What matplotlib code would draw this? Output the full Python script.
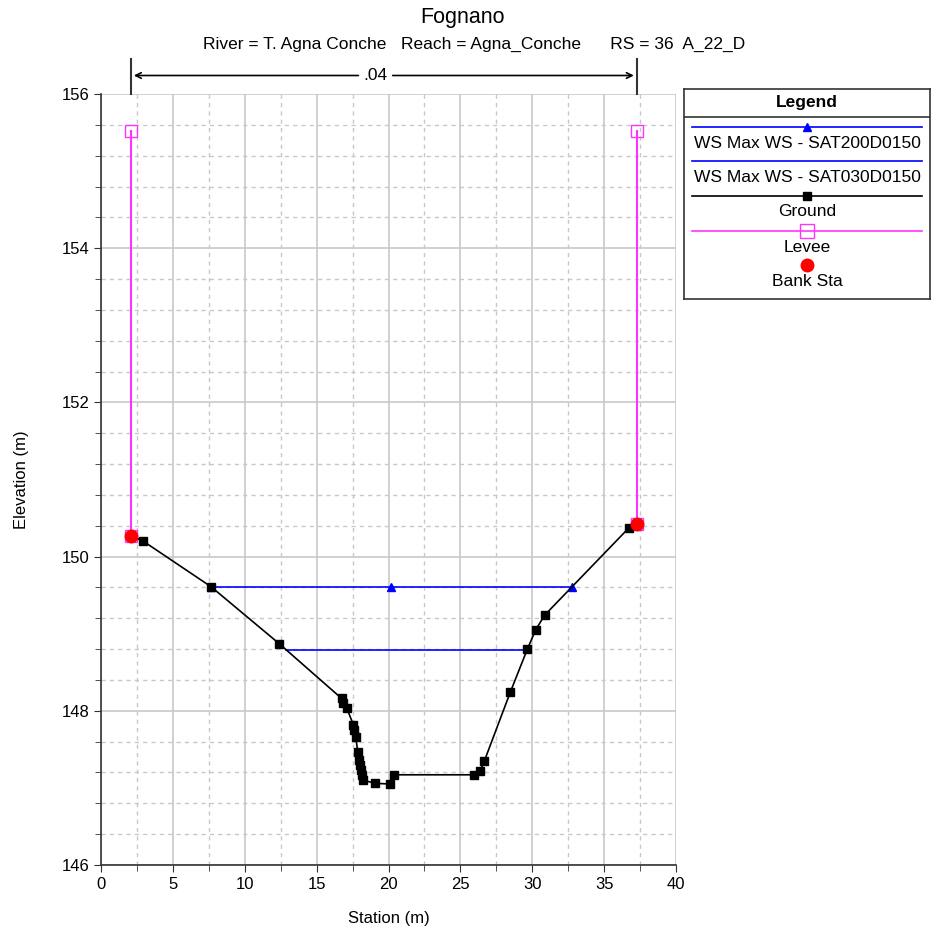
import matplotlib.pyplot as plt
from matplotlib.ticker import MultipleLocator

plt.rcParams['font.family'] = ['Liberation Sans', 'DejaVu Sans']

# Ground profile (station, elevation)
ground_x = [2.09, 2.94, 7.65, 12.4, 16.74, 16.86, 17.09, 17.55, 17.62, 17.72, 17.86,
            17.95, 18.02, 18.09, 18.18, 18.25, 19.06, 20.10, 20.41, 25.97, 26.37,
            26.67, 28.47, 29.66, 30.24, 30.86, 36.71, 37.26]
ground_y = [150.27, 150.20, 149.61, 148.87, 148.16, 148.10, 148.04, 147.82, 147.75,
            147.66, 147.47, 147.36, 147.30, 147.23, 147.17, 147.10, 147.06, 147.05,
            147.17, 147.17, 147.22, 147.35, 148.24, 148.80, 149.05, 149.24, 150.37, 150.42]

# Water surfaces
ws200_x = [7.65, 20.2, 32.74]
ws200_y = [149.61, 149.61, 149.61]
ws030_x = [12.9, 29.64]
ws030_y = [148.79, 148.79]

# Levees
levee_left_x = [2.09, 2.09]
levee_left_y = [155.52, 150.27]
levee_right_x = [37.26, 37.26]
levee_right_y = [155.52, 150.42]

# Bank stations
bank_x = [2.09, 37.26]
bank_y = [150.27, 150.42]

n_value = ".04"

fig = plt.figure(figsize=(9.32, 9.32), dpi=100)
ax = fig.add_axes([101 / 932, 1 - 865 / 932, 575 / 932, 771 / 932])

ax.set_xlim(0, 40)
ax.set_ylim(146, 156)
ax.xaxis.set_major_locator(MultipleLocator(5))
ax.xaxis.set_minor_locator(MultipleLocator(2.5))
ax.yaxis.set_major_locator(MultipleLocator(2))
ax.yaxis.set_minor_locator(MultipleLocator(0.4))
ax.grid(which='major', color='#c8c8c8', linewidth=1.2, linestyle='-')
ax.grid(which='minor', color='#c8c8c8', linewidth=1.0, linestyle=(0, (3, 3)))
ax.set_axisbelow(True)
for s in ['top', 'right']:
    ax.spines[s].set_visible(False)
for s in ['left', 'bottom']:
    ax.spines[s].set_color('#333333')
    ax.spines[s].set_linewidth(1.2)
ax.tick_params(which='major', direction='out', length=5, labelsize=12, color='#333333')
ax.tick_params(which='minor', direction='out', length=4, color='#333333')

ax.plot(levee_left_x, levee_left_y, color='#ff33ff', lw=1.5, marker='s', ms=8,
        mfc='none', mec='#ff33ff', zorder=3)
ax.plot(levee_right_x, levee_right_y, color='#ff33ff', lw=1.5, marker='s', ms=8,
        mfc='none', mec='#ff33ff', zorder=3)
ax.plot(ws200_x, ws200_y, color='#0000ff', lw=1.2, marker='^', ms=6, zorder=4)
ax.plot(ws030_x, ws030_y, color='#0000ff', lw=1.2, zorder=4)
ax.plot(ground_x, ground_y, color='black', lw=1.2, marker='s', ms=6, zorder=5)
ax.plot(bank_x, bank_y, linestyle='none', marker='o', ms=9, color='red', zorder=6)

ax.set_xlabel('Station (m)', fontsize=12, labelpad=14)
ax.set_ylabel('Elevation (m)', fontsize=12, labelpad=23)

# Title
fig.text(463 / 932, 1 - 18 / 932, 'Fognano', ha='center', va='center', fontsize=15.5)
fig.text(474 / 932, 1 - 44 / 932,
         'River = T. Agna Conche   Reach = Agna_Conche      RS = 36  A_22_D',
         ha='center', va='center', fontsize=12.5)

# Manning's n annotation
ax.plot([bank_x[0], bank_x[0]], [156, 156.46], color='#333333', lw=1.5, clip_on=False)
ax.plot([bank_x[1], bank_x[1]], [156, 156.46], color='#333333', lw=1.5, clip_on=False)
mid = 19.1
ax.annotate('', xy=(bank_x[0], 156.24), xytext=(mid - 1.0, 156.24),
            arrowprops=dict(arrowstyle='->', color='black', lw=1.2), annotation_clip=False)
ax.annotate('', xy=(bank_x[1], 156.24), xytext=(mid + 1.0, 156.24),
            arrowprops=dict(arrowstyle='->', color='black', lw=1.2), annotation_clip=False)
ax.text(mid, 156.24, n_value, ha='center', va='center', fontsize=12.5, clip_on=False)

# Legend box
lg = fig.add_axes([684 / 932, 1 - 299 / 932, 246 / 932, 210 / 932])
lg.set_xlim(0, 246)
lg.set_ylim(210, 0)
lg.set_xticks([])
lg.set_yticks([])
for s in lg.spines.values():
    s.set_color('#333333')
    s.set_linewidth(1.2)
lg.text(123, 14, 'Legend', ha='center', va='center', fontsize=12.5, fontweight='bold')
lg.axhline(28, color='#333333', lw=1.2)
entries = [
    (38, 'WS Max WS - SAT200D0150', '#0000ff', '^', '#0000ff', '#0000ff', '-', 6),
    (72, 'WS Max WS - SAT030D0150', '#0000ff', None, '#0000ff', '#0000ff', '-', 0),
    (107, 'Ground', 'black', 's', 'black', 'black', '-', 6),
    (142, 'Levee', '#ff33ff', 's', 'none', '#ff33ff', '-', 10),
    (176, 'Bank Sta', 'red', 'o', 'red', 'red', 'none', 9),
]
for yy, label, col, mk, mfc, mec, ls, ms in entries:
    if ls != 'none':
        lg.plot([8, 238], [yy, yy], color=col, lw=1.2)
    if mk is not None:
        lg.plot([123], [yy], marker=mk, ms=ms, mfc=mfc, mec=mec, color=col, ls='none')
    lg.text(123, yy + 16, label, ha='center', va='center', fontsize=12.5)

fig.savefig('out.png', dpi=100)
